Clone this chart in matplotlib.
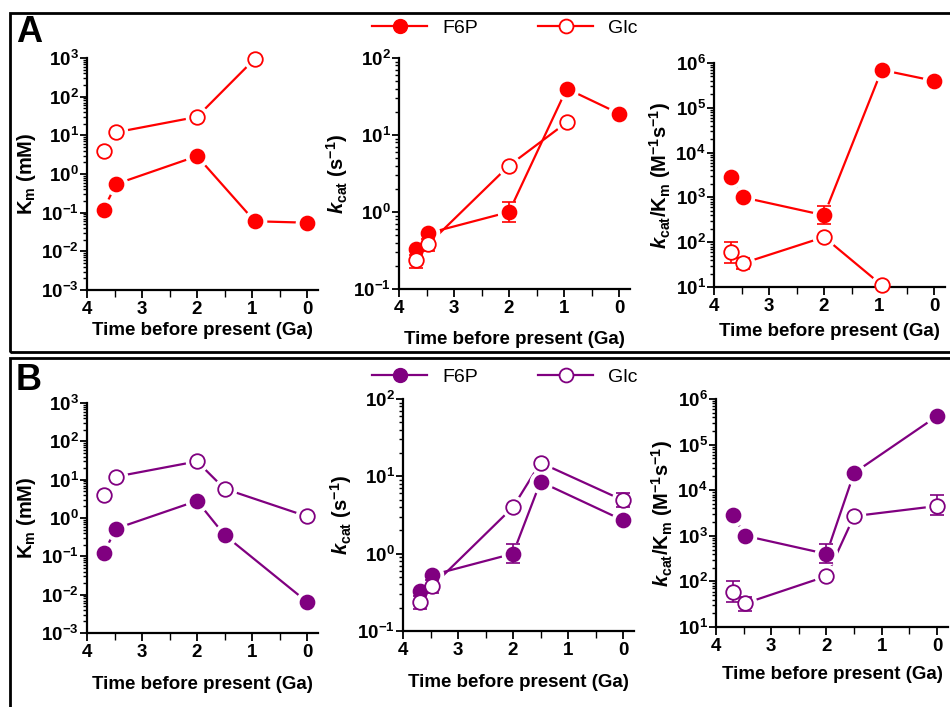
import numpy as np
import matplotlib
matplotlib.use('Agg')
import matplotlib.pyplot as plt
from matplotlib.patches import Rectangle
from matplotlib.lines import Line2D
from matplotlib.ticker import LogLocator, NullFormatter, MultipleLocator

plt.rcParams['font.family'] = ['Liberation Sans', 'DejaVu Sans']
plt.rcParams['font.weight'] = 'bold'
plt.rcParams['axes.labelweight'] = 'bold'
plt.rcParams['axes.unicode_minus'] = False
plt.rcParams['mathtext.fontset'] = 'custom'
plt.rcParams['mathtext.rm'] = 'Liberation Sans:bold'
plt.rcParams['mathtext.it'] = 'Liberation Sans:italic:bold'
plt.rcParams['mathtext.bf'] = 'Liberation Sans:bold'

# Tiempo (Ga) de cada nodo
x_a = [3.7, 3.47, 2.0, 0.95, 0.0]
x_a_glc = [3.7, 3.47, 2.0, 0.95]
x_b = [3.7, 3.47, 2.0, 1.5, 0.0]

# Panel A (rojo)
km_a_f6p = [0.12, 0.55, 2.9, 0.06, 0.055]
km_a_glc = [4.0, 12, 30, 950]
kcat_a_f6p = [0.33, 0.53, 1.0, 40, 19]
kcat_a_f6p_lo = [0.33, 0.53, 0.75, 40, 19]
kcat_a_f6p_hi = [0.33, 0.53, 1.35, 40, 19]
kcat_a_glc = [0.24, 0.38, 4.0, 14.6]
kcat_a_glc_lo = [0.19, 0.31, 4.0, 14.6]
kcat_a_glc_hi = [0.28, 0.45, 4.0, 14.6]
eff_a_f6p = [2900, 1000, 400, 7e5, 4e5]
eff_a_f6p_lo = [2900, 1000, 250, 7e5, 4e5]
eff_a_f6p_hi = [2900, 1000, 650, 7e5, 4e5]
eff_a_glc = [60, 34, 130, 11]
eff_a_glc_lo = [35, 25, 130, 11]
eff_a_glc_hi = [100, 45, 130, 11]

# Panel B (morado)
km_b_f6p = [0.12, 0.53, 2.8, 0.36, 0.0065]
km_b_glc = [4.0, 12, 30, 5.8, 1.1]
kcat_b_f6p = [0.33, 0.53, 1.0, 8.5, 2.7]
kcat_b_f6p_lo = [0.33, 0.53, 0.75, 8.5, 2.7]
kcat_b_f6p_hi = [0.33, 0.53, 1.35, 8.5, 2.7]
kcat_b_glc = [0.24, 0.38, 4.0, 15, 4.9]
kcat_b_glc_lo = [0.19, 0.31, 4.0, 15, 4.0]
kcat_b_glc_hi = [0.28, 0.45, 4.0, 15, 6.1]
eff_b_f6p = [2900, 1000, 400, 24000, 4.2e5]
eff_b_f6p_lo = [2900, 1000, 250, 24000, 4.2e5]
eff_b_f6p_hi = [2900, 1000, 650, 24000, 4.2e5]
eff_b_glc = [60, 33, 130, 2700, 4500]
eff_b_glc_lo = [35, 23, 130, 2700, 2800]
eff_b_glc_hi = [100, 45, 130, 2700, 7800]

red = '#ff0000'
purple = '#800080'

W, H = 950, 707
fig = plt.figure(figsize=(9.5, 7.07), dpi=100)


def make_ax(left, right, top, bottom, ylo, yhi, ylabel, xpad):
    ax = fig.add_axes([left / W, 1 - bottom / H, (right - left) / W, (bottom - top) / H])
    ax.set_yscale('log')
    ax.set_ylim(ylo, yhi)
    ax.set_xlim(4, -0.2)
    ax.spines['top'].set_visible(False)
    ax.spines['right'].set_visible(False)
    for s in ['left', 'bottom']:
        ax.spines[s].set_linewidth(1.6)
    ax.xaxis.set_major_locator(MultipleLocator(1))
    ax.xaxis.set_minor_locator(MultipleLocator(0.5))
    ax.yaxis.set_major_locator(LogLocator(base=10, numticks=20))
    ax.yaxis.set_minor_locator(LogLocator(base=10, subs=np.arange(2, 10), numticks=20))
    ax.yaxis.set_minor_formatter(NullFormatter())
    ax.tick_params(which='major', direction='out', length=5, width=1.3, labelsize=13.5, pad=1)
    ax.tick_params(which='minor', direction='out', length=3, width=1.0)
    ax.tick_params(axis='x', which='major', length=6, pad=2)
    ax.tick_params(axis='x', which='minor', length=5)
    ax.set_xlabel('Time before present (Ga)', fontsize=13.5, labelpad=xpad)
    ax.set_ylabel(ylabel, fontsize=14.5, labelpad=2)
    return ax


def serie(ax, x, y, color, filled, lo=None, hi=None):
    ax.plot(x, y, color=color, lw=1.6, zorder=1.5, clip_on=False)
    # máscara blanca para dejar huecos entre línea y marcador
    ax.plot(x, y, ls='none', marker='o', ms=16, mfc='white', mec='white',
            zorder=2, clip_on=False)
    if lo is not None:
        y_arr = np.array(y)
        err = [y_arr - np.array(lo), np.array(hi) - y_arr]
        ax.errorbar(x, y, yerr=err, fmt='none', ecolor=color, elinewidth=1.2,
                    capsize=5, capthick=1.2, zorder=2.2, clip_on=False)
    ax.plot(x, y, ls='none', marker='o', ms=10 if filled else 10.5,
            mfc=color if filled else 'white', mec=color, mew=1.3,
            zorder=3, clip_on=False)


lab_km = r'$\mathrm{K_m}$ (mM)'
lab_kcat = r'$k_{\mathrm{cat}}$ (s$^{-1}$)'
lab_eff = r'$k_{\mathrm{cat}}/\mathrm{K_m}$ (M$^{-1}$s$^{-1}$)'

# ---- Panel A ----
ax = make_ax(87, 318, 58, 290, 1e-3, 1e3, lab_km, 3)
serie(ax, x_a, km_a_f6p, red, True)
serie(ax, x_a_glc, km_a_glc, red, False)

ax = make_ax(399, 630, 58, 289, 1e-1, 1e2, lab_kcat, 10)
serie(ax, x_a, kcat_a_f6p, red, True, kcat_a_f6p_lo, kcat_a_f6p_hi)
serie(ax, x_a_glc, kcat_a_glc, red, False, kcat_a_glc_lo, kcat_a_glc_hi)

ax = make_ax(714, 945, 63, 287, 1e1, 1e6, lab_eff, 6)
serie(ax, x_a, eff_a_f6p, red, True, eff_a_f6p_lo, eff_a_f6p_hi)
serie(ax, x_a_glc, eff_a_glc, red, False, eff_a_glc_lo, eff_a_glc_hi)

# ---- Panel B ----
ax = make_ax(87, 318, 403, 633, 1e-3, 1e3, lab_km, 11)
serie(ax, x_b, km_b_f6p, purple, True)
serie(ax, x_b, km_b_glc, purple, False)

ax = make_ax(403, 634, 399, 631, 1e-1, 1e2, lab_kcat, 11)
serie(ax, x_b, kcat_b_f6p, purple, True, kcat_b_f6p_lo, kcat_b_f6p_hi)
serie(ax, x_b, kcat_b_glc, purple, False, kcat_b_glc_lo, kcat_b_glc_hi)

ax = make_ax(716, 948, 399, 627, 1e1, 1e6, lab_eff, 8)
serie(ax, x_b, eff_b_f6p, purple, True, eff_b_f6p_lo, eff_b_f6p_hi)
serie(ax, x_b, eff_b_glc, purple, False, eff_b_glc_lo, eff_b_glc_hi)

# Leyendas
for color, ycen in [(red, 28), (purple, 377)]:
    handles = [Line2D([], [], color=color, lw=1.6, marker='o', ms=10, mfc=color, mec=color),
               Line2D([], [], color=color, lw=1.6, marker='o', ms=10, mfc='white', mec=color, mew=1.3)]
    fig.legend(handles, ['F6P', 'Glc'], loc='center', bbox_to_anchor=(505 / W, 1 - ycen / H),
               ncol=2, frameon=False, handlelength=2.8, columnspacing=3.1, handletextpad=0.8,
               prop={'weight': 'normal', 'size': 14})

# Marcos y letras de panel
fig.patches.append(Rectangle((10 / W, 1 - 352 / H), 1.2, (352 - 13) / H, transform=fig.transFigure,
                             fill=False, lw=2, ec='black'))
fig.patches.append(Rectangle((10 / W, -0.2), 1.2, 0.2 + 1 - 358 / H, transform=fig.transFigure,
                             fill=False, lw=2, ec='black'))
fig.text(16 / W, 1 - 32 / H, 'A', fontsize=26, fontweight='heavy', va='center', ha='left')
fig.text(16 / W, 1 - 380 / H, 'B', fontsize=26, fontweight='heavy', va='center', ha='left')

fig.savefig('out.png', dpi=100)
